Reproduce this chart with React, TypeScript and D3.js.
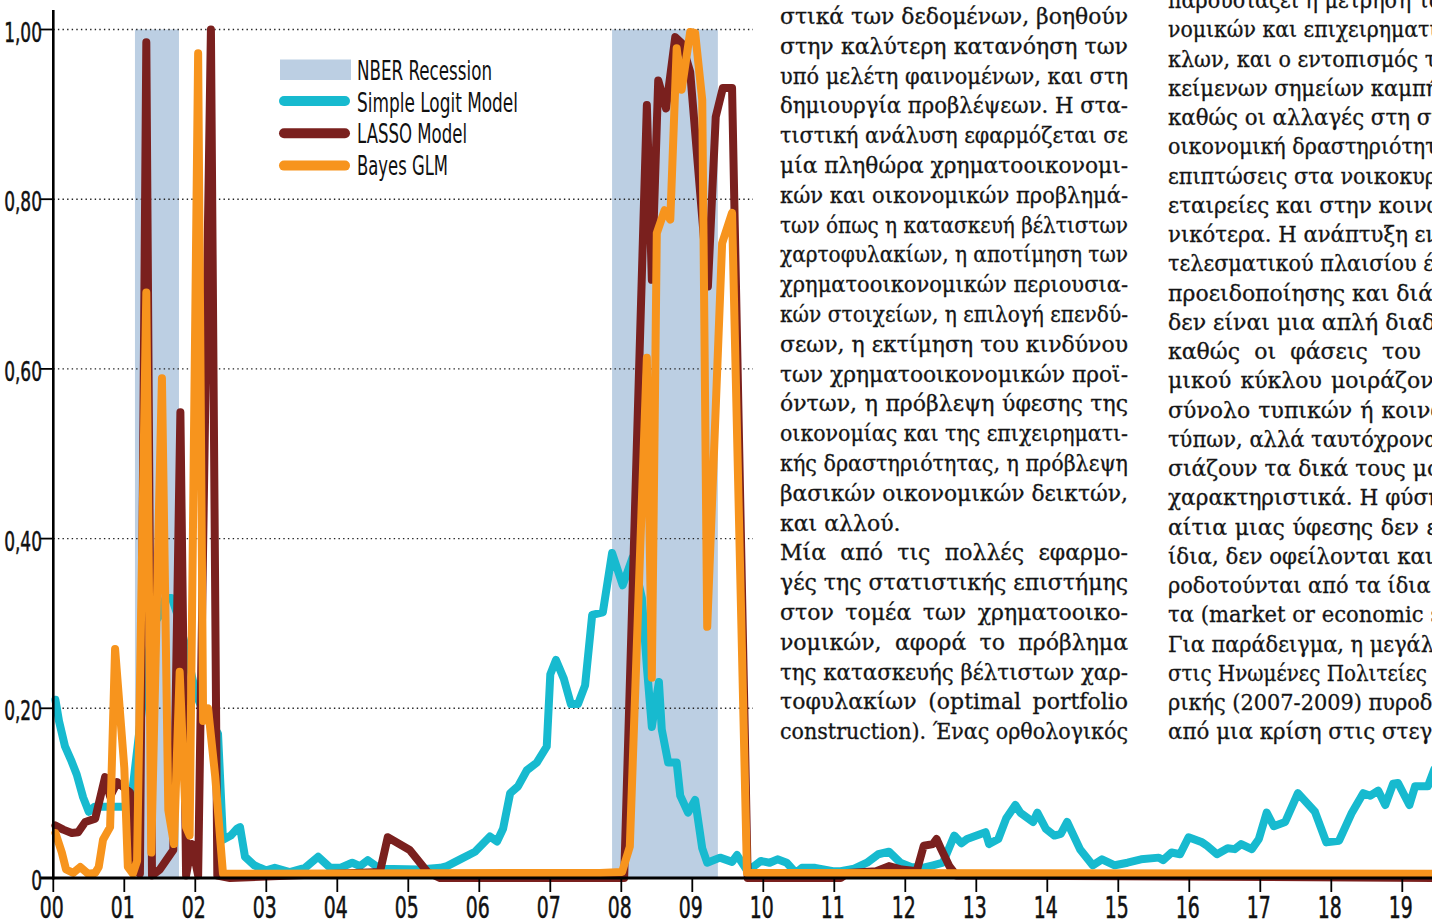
import React, { useEffect, useRef } from "react";
import * as d3 from "d3";

const W = 1432;
const H = 923;

// NBER recessions, decimal years
const recessions: [number, number][] = [
  [2001.15, 2001.77],
  [2007.87, 2009.36],
];

// Simple Logit Model
const logitSeries: [number, number][] = [
  [2000.03, 0.21], [2000.08, 0.185], [2000.165, 0.155], [2000.25, 0.139], [2000.33, 0.122],
  [2000.42, 0.095], [2000.5, 0.078], [2000.58, 0.084], [2001.08, 0.084], [2001.12, 0.107],
  [2001.18, 0.15], [2001.25, 0.2], [2001.33, 0.26], [2001.42, 0.3], [2001.5, 0.31],
  [2001.58, 0.33], [2001.67, 0.33], [2001.75, 0.31], [2001.84, 0.28], [2001.92, 0.25],
  [2002.0, 0.22], [2002.09, 0.2], [2002.18, 0.19], [2002.32, 0.17], [2002.39, 0.045],
  [2002.5, 0.05], [2002.585, 0.058], [2002.63, 0.06], [2002.7, 0.025], [2002.83, 0.015],
  [2002.91, 0.012], [2003.0, 0.009], [2003.12, 0.012], [2003.33, 0.007], [2003.545, 0.012],
  [2003.73, 0.025], [2003.9, 0.012], [2004.04, 0.012], [2004.21, 0.018], [2004.32, 0.014],
  [2004.43, 0.021], [2004.6, 0.011], [2005.16, 0.01], [2005.45, 0.012], [2005.545, 0.014],
  [2005.73, 0.022], [2005.94, 0.031], [2006.15, 0.049], [2006.25, 0.043], [2006.335, 0.058],
  [2006.435, 0.1], [2006.545, 0.108], [2006.67, 0.127], [2006.81, 0.136], [2006.95, 0.155],
  [2007.0, 0.24], [2007.08, 0.257], [2007.19, 0.235], [2007.29, 0.205], [2007.39, 0.205],
  [2007.49, 0.227], [2007.59, 0.31], [2007.74, 0.313], [2007.87, 0.383], [2008.02, 0.345],
  [2008.16, 0.378], [2008.29, 0.33], [2008.36, 0.249], [2008.43, 0.178], [2008.53, 0.231],
  [2008.57, 0.175], [2008.66, 0.136], [2008.78, 0.136], [2008.83, 0.097], [2008.94, 0.077],
  [2009.04, 0.092], [2009.14, 0.035], [2009.21, 0.018], [2009.39, 0.024], [2009.56, 0.019],
  [2009.63, 0.027], [2009.77, 0.009], [2009.87, 0.014], [2009.965, 0.02], [2010.09, 0.018],
  [2010.2, 0.022], [2010.33, 0.018], [2010.46, 0.006], [2010.545, 0.012], [2010.73, 0.012],
  [2010.98, 0.008], [2011.09, 0.008], [2011.28, 0.011], [2011.46, 0.018], [2011.62, 0.028],
  [2011.77, 0.031], [2011.93, 0.018], [2012.08, 0.013], [2012.24, 0.012], [2012.39, 0.015],
  [2012.53, 0.018], [2012.69, 0.05], [2012.79, 0.041], [2012.87, 0.046], [2013.13, 0.054],
  [2013.18, 0.04], [2013.31, 0.046], [2013.42, 0.07], [2013.55, 0.086], [2013.62, 0.077],
  [2013.8, 0.066], [2013.86, 0.077], [2013.98, 0.058], [2014.1, 0.05], [2014.19, 0.052],
  [2014.28, 0.066], [2014.46, 0.034], [2014.64, 0.015], [2014.77, 0.022], [2014.95, 0.015],
  [2015.13, 0.018], [2015.32, 0.022], [2015.57, 0.024], [2015.63, 0.021], [2015.75, 0.03],
  [2015.87, 0.028], [2015.99, 0.048], [2016.18, 0.042], [2016.25, 0.038], [2016.39, 0.028],
  [2016.54, 0.035], [2016.64, 0.034], [2016.73, 0.04], [2016.88, 0.034], [2016.98, 0.046],
  [2017.09, 0.077], [2017.19, 0.061], [2017.35, 0.066], [2017.53, 0.1], [2017.77, 0.078],
  [2017.93, 0.042], [2018.11, 0.044], [2018.29, 0.077], [2018.45, 0.1], [2018.55, 0.097],
  [2018.66, 0.103], [2018.76, 0.086], [2018.87, 0.111], [2018.94, 0.112], [2019.1, 0.086],
  [2019.18, 0.108], [2019.36, 0.108], [2019.45, 0.128],
];

// LASSO Model
const lassoSeries: [number, number][] = [
  [2000.03, 0.062], [2000.14, 0.057], [2000.26, 0.053], [2000.35, 0.054], [2000.45, 0.066],
  [2000.59, 0.07], [2000.73, 0.119], [2000.8, 0.096], [2000.9, 0.113], [2001.08, 0.101],
  [2001.14, 0.01], [2001.22, 0.005], [2001.31, 0.985], [2001.39, 0.003], [2001.5, 0.01],
  [2001.69, 0.033], [2001.79, 0.549], [2001.87, 0.003], [2001.95, 0.04], [2002.04, 0.003],
  [2002.22, 1.0], [2002.31, 0.003], [2002.49, 0.0], [2004.6, 0.007], [2004.71, 0.048],
  [2005.02, 0.033], [2005.27, 0.007], [2005.45, 0.0], [2008.04, 0.0], [2008.36, 0.911],
  [2008.43, 0.705], [2008.52, 0.94], [2008.63, 0.907], [2008.76, 0.991], [2008.85, 0.984],
  [2008.97, 0.95], [2009.22, 0.697], [2009.33, 0.897], [2009.43, 0.931], [2009.56, 0.931],
  [2009.78, 0.0], [2011.09, 0.0], [2011.19, 0.006], [2011.59, 0.008], [2011.77, 0.014],
  [2011.95, 0.01], [2012.16, 0.008], [2012.26, 0.038], [2012.39, 0.04], [2012.44, 0.046],
  [2012.5, 0.035], [2012.62, 0.014], [2012.72, 0.003], [2019.5, 0.0],
];

// Bayes GLM
const bayesSeries: [number, number][] = [
  [2000.03, 0.053], [2000.12, 0.03], [2000.18, 0.01], [2000.28, 0.006], [2000.38, 0.013],
  [2000.49, 0.005], [2000.59, 0.006], [2000.64, 0.013], [2000.7, 0.045], [2000.8, 0.06],
  [2000.87, 0.27], [2001.0, 0.13], [2001.05, 0.013], [2001.12, 0.005], [2001.18, 0.02],
  [2001.31, 0.69], [2001.38, 0.03], [2001.53, 0.589], [2001.62, 0.08], [2001.7, 0.04],
  [2001.78, 0.243], [2001.87, 0.06], [2001.92, 0.05], [2002.04, 0.972], [2002.11, 0.185],
  [2002.18, 0.2], [2002.28, 0.12], [2002.39, 0.005], [2007.7, 0.006], [2008.01, 0.007],
  [2008.12, 0.037], [2008.36, 0.613], [2008.43, 0.236], [2008.5, 0.76], [2008.61, 0.787],
  [2008.69, 0.776], [2008.78, 0.978], [2008.85, 0.929], [2008.97, 0.997], [2009.04, 0.996],
  [2009.14, 0.917], [2009.21, 0.296], [2009.42, 0.748], [2009.56, 0.784], [2009.77, 0.006],
  [2019.5, 0.005],
];

const yTicks = [0, 0.2, 0.4, 0.6, 0.8, 1.0];
const yTickLabels = ["0", "0,20", "0,40", "0,60", "0,80", "1,00"];
const xTickYears = [
  2000, 2001, 2002, 2003, 2004, 2005, 2006, 2007, 2008, 2009,
  2010, 2011, 2012, 2013, 2014, 2015, 2016, 2017, 2018, 2019,
];
const xTickLabels = [
  "00", "01", "02", "03", "04", "05", "06", "07", "08", "09",
  "10", "11", "12", "13", "14", "15", "16", "17", "18", "19",
];
const legendLabels = ["NBER Recession", "Simple Logit Model", "LASSO Model", "Bayes GLM"];

const column1Lines = [
  "στικά των δεδομένων, βοηθούν",
  "στην καλύτερη κατανόηση των",
  "υπό μελέτη φαινομένων, και στη",
  "δημιουργία προβλέψεων. Η στα-",
  "τιστική ανάλυση εφαρμόζεται σε",
  "μία πληθώρα χρηματοοικονομι-",
  "κών και οικονομικών προβλημά-",
  "των όπως η κατασκευή βέλτιστων",
  "χαρτοφυλακίων, η αποτίμηση των",
  "χρηματοοικονομικών περιουσια-",
  "κών στοιχείων, η επιλογή επενδύ-",
  "σεων, η εκτίμηση του κινδύνου",
  "των χρηματοοικονομικών προϊ-",
  "όντων, η πρόβλεψη ύφεσης της",
  "οικονομίας και της επιχειρηματι-",
  "κής δραστηριότητας, η πρόβλεψη",
  "βασικών οικονομικών δεικτών,",
  "και αλλού.",
  "Μία από τις πολλές εφαρμο-",
  "γές της στατιστικής επιστήμης",
  "στον τομέα των χρηματοοικο-",
  "νομικών, αφορά το πρόβλημα",
  "της κατασκευής βέλτιστων χαρ-",
  "τοφυλακίων (optimal portfolio",
  "construction). Ένας ορθολογικός",
];
const column1Ragged = ["και αλλού."];

const column2Lines = [
  "παρουσιάζει η μέτρηση των οικο-",
  "νομικών και επιχειρηματικών κύ-",
  "κλων, και ο εντοπισμός των υπο-",
  "κείμενων σημείων καμπής, αφού",
  "καθώς οι αλλαγές στη συνολική",
  "οικονομική δραστηριότητα έχουν",
  "επιπτώσεις στα νοικοκυριά, στις",
  "εταιρείες και στην κοινωνία γε-",
  "νικότερα. Η ανάπτυξη ενός απο-",
  "τελεσματικού πλαισίου έγκαιρης",
  "προειδοποίησης και διάγνωσης",
  "δεν είναι μια απλή διαδικασία,",
  "καθώς οι φάσεις του οικονο-",
  "μικού κύκλου μοιράζονται ένα",
  "σύνολο τυπικών ή κοινών προ-",
  "τύπων, αλλά ταυτόχρονα παρου-",
  "σιάζουν τα δικά τους μοναδικά",
  "χαρακτηριστικά. Η φύση και τα",
  "αίτια μιας ύφεσης δεν είναι τα",
  "ίδια, δεν οφείλονται και δεν πυ-",
  "ροδοτούνται από τα ίδια γεγονό-",
  "τα (market or economic shocks).",
  "Για παράδειγμα, η μεγάλη ύφεση",
  "στις Ηνωμένες Πολιτείες της Αμε-",
  "ρικής (2007-2009) πυροδοτήθηκε",
  "από μια κρίση στις στεγαστικές",
];

const COLORS = {
  recession: "#bccfe3",
  logit: "#17bacf",
  lasso: "#7a201e",
  bayes: "#f7941d",
};

const condensed = "'Liberation Sans Narrow', 'DejaVu Sans Condensed', sans-serif";
const serif = "'DejaVu Serif', serif";

export default function App() {
  const svgRef = useRef<SVGSVGElement>(null);

  const x = d3.scaleLinear().domain([2000, 2020]).range([53.3, 1473.3]);
  const y = d3.scaleLinear().domain([0, 1]).range([878, 29.5]);
  const line = d3
    .line<[number, number]>()
    .x((d) => x(d[0]))
    .y((d) => y(d[1]));

  useEffect(() => {
    document.body.style.margin = "0";
    const svg = d3.select(svgRef.current);
    // justify text lines by word spacing
    svg.selectAll<SVGTextElement, unknown>("text.justify").each(function () {
      const target = +(this.getAttribute("data-width") || 0);
      const natural = this.getComputedTextLength();
      const gaps = (this.textContent || "").split(" ").length - 1;
      if (natural > target) {
        this.setAttribute("textLength", String(target));
        this.setAttribute("lengthAdjust", "spacingAndGlyphs");
      } else if (gaps > 0) {
        this.setAttribute("word-spacing", String((target - natural) / gaps));
      }
    });
  }, []);

  const series = [
    { data: logitSeries, color: COLORS.logit },
    { data: lassoSeries, color: COLORS.lasso },
    { data: bayesSeries, color: COLORS.bayes },
  ];

  const legendWidths = [135, 161, 110, 91];

  return (
    <div style={{ position: "absolute", left: 0, top: 0 }}>
      <svg ref={svgRef} width={W} height={H} style={{ display: "block", background: "#fff" }}>
        {recessions.map(([a, b], i) => (
          <rect key={i} x={x(a)} y={y(1)} width={x(b) - x(a)} height={y(0) - y(1)} fill={COLORS.recession} />
        ))}
        {yTicks.slice(1).map((t) => (
          <line key={t} x1={x(2000)} x2={753} y1={y(t)} y2={y(t)} stroke="#222" strokeWidth={1.4} strokeDasharray="1.4 3.2" />
        ))}
        {series.map((s, i) => (
          <path key={i} d={line(s.data) || ""} fill="none" stroke={s.color} strokeWidth={8} strokeLinejoin="round" strokeLinecap="round" />
        ))}
        {/* axes */}
        <line x1={x(2000)} x2={x(2000)} y1={10} y2={879.5} stroke="#000" strokeWidth={2.6} />
        <line x1={40} x2={W} y1={y(0)} y2={y(0)} stroke="#000" strokeWidth={2.8} />
        {yTicks.map((t, i) => (
          <g key={t}>
            <line x1={40} x2={x(2000)} y1={y(t)} y2={y(t)} stroke="#000" strokeWidth={1.8} />
            <text
              transform={`translate(42,${y(t) + 12}) scale(0.7,1)`}
              textAnchor="end"
              fontFamily={condensed}
              fontSize={27}
              fill="#111"
              stroke="#111"
              strokeWidth={0.5}
            >
              {yTickLabels[i]}
            </text>
          </g>
        ))}
        {xTickYears.map((yr, i) => (
          <g key={yr}>
            <line x1={x(yr)} x2={x(yr)} y1={y(0)} y2={892} stroke="#000" strokeWidth={1.8} />
            <text
              transform={`translate(${x(yr) - 1.5},918) scale(0.7,1)`}
              textAnchor="middle"
              fontFamily={condensed}
              fontSize={30}
              fill="#111"
              stroke="#111"
              strokeWidth={0.5}
            >
              {xTickLabels[i]}
            </text>
          </g>
        ))}
        {/* legend */}
        <g fontFamily={condensed} fontSize={26} fill="#111">
          <rect x={280} y={59.5} width={71} height={20.5} fill={COLORS.recession} />
          {[COLORS.logit, COLORS.lasso, COLORS.bayes].map((c, i) => (
            <line key={c} x1={284} x2={345} y1={101 + i * 32.3} y2={101 + i * 32.3} stroke={c} strokeWidth={10} strokeLinecap="round" />
          ))}
          {legendLabels.map((l, i) => (
            <text key={l} x={357} y={80 + i * 31.5} textLength={legendWidths[i]} lengthAdjust="spacingAndGlyphs">
              {l}
            </text>
          ))}
        </g>
        {/* article text */}
        <g fontFamily={serif} fontSize={22} fill="#151515" stroke="#151515" strokeWidth={0.3}>
          {column1Lines.map((l, i) => (
            <text
              key={i}
              className={column1Ragged.includes(l) ? "" : "justify"}
              data-width={348}
              x={780}
              y={24 + i * 29.8}
            >
              {l}
            </text>
          ))}
          {column2Lines.map((l, i) => (
            <text key={i} className="justify" data-width={350} x={1168} y={8 + i * 29.25}>
              {l}
            </text>
          ))}
        </g>
      </svg>
    </div>
  );
}
